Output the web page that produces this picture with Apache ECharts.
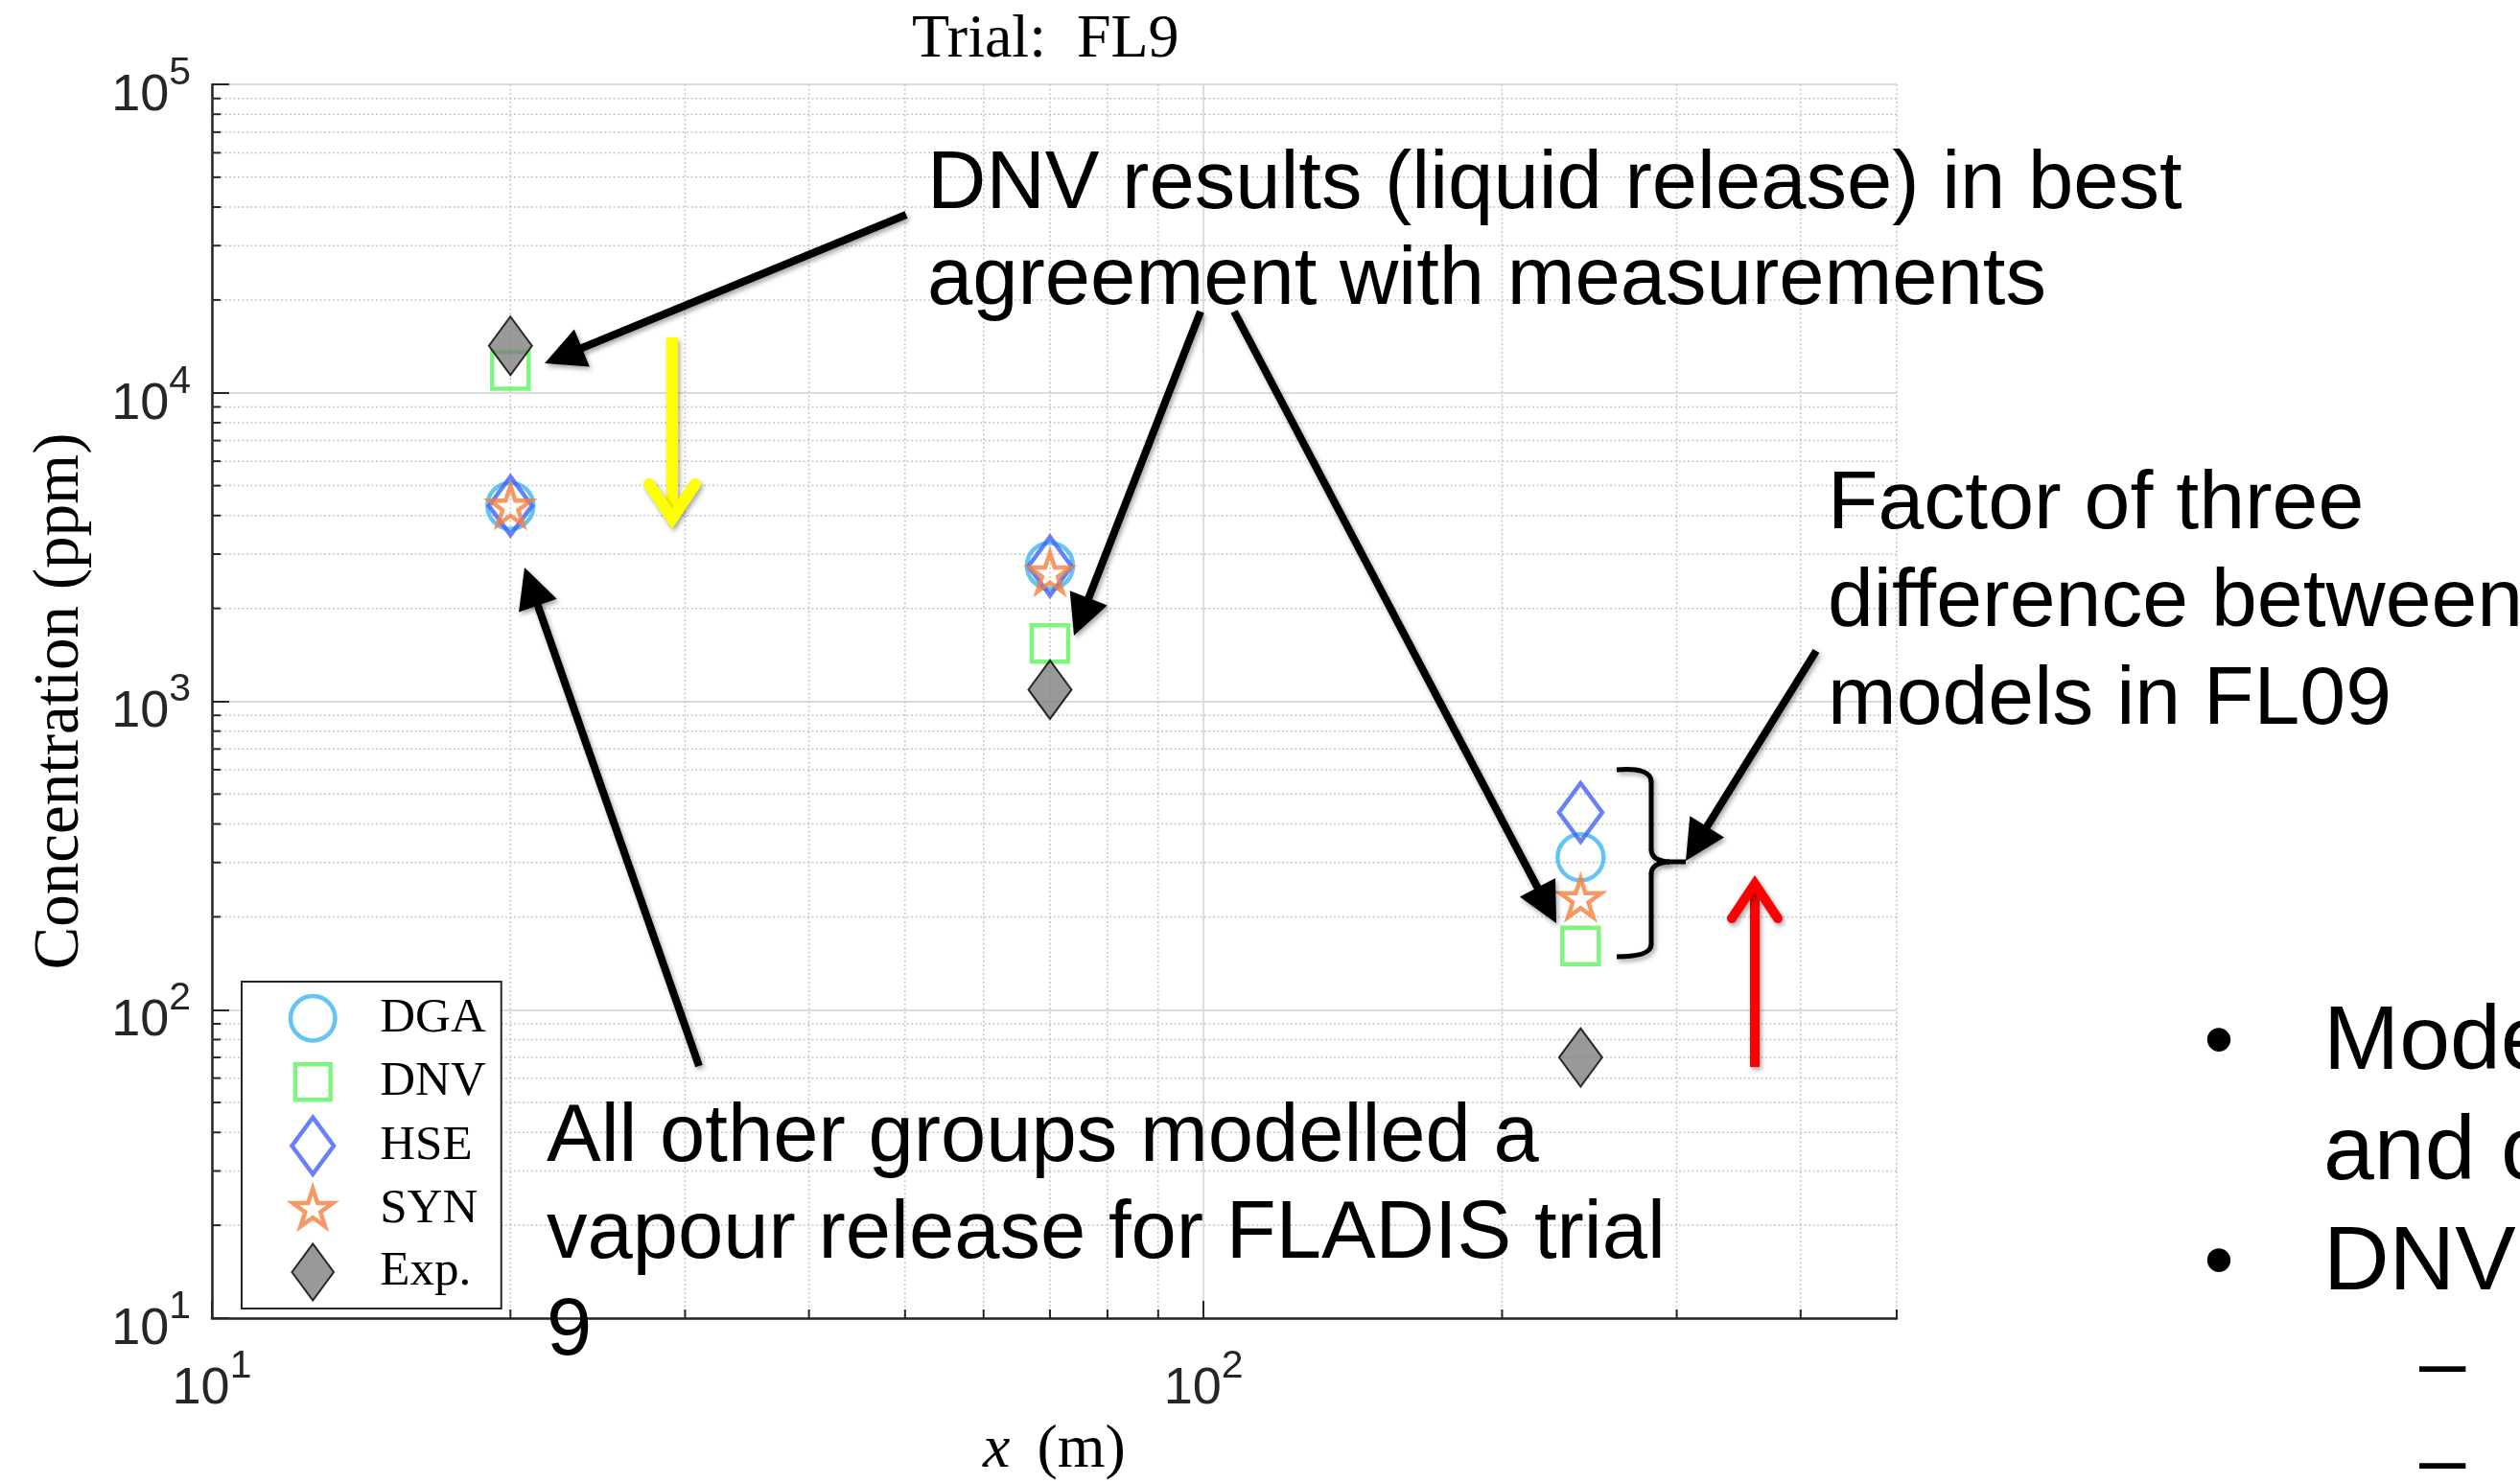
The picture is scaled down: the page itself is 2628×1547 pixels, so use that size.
<!DOCTYPE html>
<html>
<head>
<meta charset="utf-8">
<script src="https://cdn.jsdelivr.net/npm/echarts@6/dist/echarts.min.js"></script>
<style>
html, body { margin: 0; padding: 0; background: #ffffff; }
#chart { width: 2628px; height: 1547px; }
</style>
</head>
<body>
<div id="chart"></div>
<script>
// ---------------- data ----------------
const distances = [20, 70, 240];              // x (m)
const dgaValues = [4300, 2750, 312];          // ppm
const dnvValues = [11800, 1540, 161];
const hseValues = [4300, 2740, 436];
const synValues = [4250, 2580, 227];
const expValues = [14200, 1090, 70];
const seriesNames = ['DGA', 'DNV', 'HSE', 'SYN', 'Exp.'];
const xMajorTicks = [10, 100];
const xMinorTicks = [20, 30, 40, 50, 60, 70, 80, 90, 200, 300, 400, 500];
const yMinorTicks = [20, 30, 40, 50, 60, 70, 80, 90,
                     200, 300, 400, 500, 600, 700, 800, 900,
                     2000, 3000, 4000, 5000, 6000, 7000, 8000, 9000,
                     20000, 30000, 40000, 50000, 60000, 70000, 80000, 90000];

// ---------------- marker shapes (64 x 64 frame, centred at 32,32) ----------------
const ICON = {
  circle: 'path://M0,0M64,64M56,32A24,24,0,1,1,8,32A24,24,0,1,1,56,32Z',
  square: 'path://M0,0M64,64M13,13L51,13L51,51L13,51Z',
  diamond: 'path://M0,0M64,64M32,1.5L54.5,32L32,62.5L9.5,32Z',
  star: 'path://M0,0M64,64M32,9.4L37.07,25.02L53.49,25.02L40.21,34.67L45.28,50.28L32,40.63L18.72,50.28L23.79,34.67L10.51,25.02L26.93,25.02Z'
};

const AXIS_COLOR = '#262626';
const SANS = 'Liberation Sans';
const SERIF = 'Liberation Serif';

function decadeLabel(value) {
  const e = Math.log10(value);
  const r = Math.round(e);
  if (Math.abs(e - r) > 1e-6) return '';
  return '{b|10}{s|' + r + '}';
}
const tickRich = {
  b: { fontFamily: SANS, fontSize: 54, color: AXIS_COLOR, lineHeight: 78, verticalAlign: 'bottom' },
  s: { fontFamily: SANS, fontSize: 41, color: AXIS_COLOR, lineHeight: 41, verticalAlign: 'bottom', padding: [0, 0, 30, 0] }
};

function pairs(values) { return distances.map((d, i) => [d, values[i]]); }

const hollow = (c, w) => ({ color: 'rgba(0,0,0,0)', borderColor: c, borderWidth: w });

const seriesDefs = [
  { name: 'DGA', values: dgaValues, icon: ICON.circle, style: hollow('#3DB5F0', 4.5) },
  { name: 'DNV', values: dnvValues, icon: ICON.square, style: hollow('#5EF25E', 4.5) },
  { name: 'HSE', values: hseValues, icon: ICON.diamond, style: hollow('#4062F7', 4.5) },
  { name: 'SYN', values: synValues, icon: ICON.star, style: hollow('#F57F3E', 4.5) },
  { name: 'Exp.', values: expValues, icon: ICON.diamond, style: { color: '#808080', borderColor: '#000000', borderWidth: 2 } }
];

// ---------------- annotation helpers ----------------
const SHADOW = { shadowBlur: 5, shadowColor: 'rgba(0,0,0,0.35)', shadowOffsetX: 2, shadowOffsetY: 3 };
function arrow(x1, y1, x2, y2) {
  const dx = x2 - x1, dy = y2 - y1, L = Math.hypot(dx, dy), ux = dx / L, uy = dy / L;
  const hl = 42, hw = 21;
  const bx = x2 - ux * hl, by = y2 - uy * hl;
  return [
    { type: 'line', z: 100, silent: true,
      shape: { x1: x1, y1: y1, x2: bx + ux * 4, y2: by + uy * 4 },
      style: Object.assign({ stroke: '#000', lineWidth: 8, lineCap: 'butt' }, SHADOW) },
    { type: 'polygon', z: 100, silent: true,
      shape: { points: [[x2, y2], [bx - uy * hw, by + ux * hw], [bx + uy * hw, by - ux * hw]] },
      style: Object.assign({ fill: '#000' }, SHADOW) }
  ];
}
function label(text, x, baseline, fs) {
  return { type: 'text', z: 100, silent: true, x: x, y: baseline - 0.3465 * fs + 5,
    style: { text: text, fontFamily: SANS, fontSize: fs, fill: '#000', align: 'left', verticalAlign: 'middle' } };
}
function braceLine(x1, y1, x2, y2) {
  return { type: 'line', z: 100, silent: true, shape: { x1: x1, y1: y1, x2: x2, y2: y2 },
    style: Object.assign({ stroke: '#000', lineWidth: 5, lineCap: 'butt' }, SHADOW) };
}
function braceCurve(x1, y1, cx, cy, x2, y2) {
  return { type: 'bezierCurve', z: 100, silent: true,
    shape: { x1: x1, y1: y1, cpx1: cx, cpy1: cy, x2: x2, y2: y2 },
    style: Object.assign({ stroke: '#000', lineWidth: 5, fill: null }, SHADOW) };
}
function glyph(ch, x, y, fs, align) {
  return { type: 'text', z: 100, silent: true, x: x, y: y,
    style: { text: ch, fontFamily: SANS, fontSize: fs, fill: '#000', align: align, verticalAlign: 'middle' } };
}

const graphics = [].concat(
  arrow(945, 224, 568, 379),
  arrow(1252, 325, 1120, 663),
  arrow(1287, 325, 1623, 963),
  arrow(1894, 679, 1758, 898),
  arrow(729, 1112, 547, 592),
  [
    // yellow arrow
    { type: 'line', z: 100, silent: true, shape: { x1: 701, y1: 352, x2: 701, y2: 535 },
      style: Object.assign({ stroke: '#FFFF00', lineWidth: 12, lineCap: 'butt' }, SHADOW) },
    { type: 'polyline', z: 100, silent: true, shape: { points: [[677, 505], [701, 541], [725, 505]] },
      style: Object.assign({ stroke: '#FFFF00', lineWidth: 12, lineCap: 'round', lineJoin: 'miter', fill: null }, SHADOW) },
    // red arrow
    { type: 'line', z: 100, silent: true, shape: { x1: 1830, y1: 1113, x2: 1830, y2: 930 },
      style: Object.assign({ stroke: '#FF0000', lineWidth: 10, lineCap: 'butt' }, SHADOW) },
    { type: 'polyline', z: 100, silent: true, shape: { points: [[1806, 958], [1830, 922], [1854, 958]] },
      style: Object.assign({ stroke: '#FF0000', lineWidth: 10, lineCap: 'round', lineJoin: 'miter', fill: null }, SHADOW) },
    // brace
    braceCurve(1686, 803, 1722, 800, 1722, 816),
    braceLine(1722, 815, 1722, 887),
    braceCurve(1722, 886, 1722, 898, 1741, 899),
    braceLine(1740, 899, 1758, 899),
    braceCurve(1741, 899, 1722, 900, 1722, 912),
    braceLine(1722, 911, 1722, 986),
    braceCurve(1722, 985, 1722, 998, 1686, 998),
    // texts
    label('DNV results (liquid release) in best', 967, 218, 85),
    label('agreement with measurements', 967, 318, 85),
    label('Factor of three', 1906, 552, 86),
    label('difference between', 1906, 654, 86),
    label('models in FL09', 1906, 756, 86),
    label('All other groups modelled a', 570, 1212, 85),
    label('vapour release for FLADIS trial', 570, 1313, 85),
    label('9', 570, 1414, 85),
    // bullets on the right
    glyph('\u2022', 2314, 1090, 90, 'center'),
    glyph('\u2022', 2314, 1320, 90, 'center'),
    label('Models', 2423, 1117, 95),
    label('and c', 2423, 1232, 95),
    label('DNV', 2423, 1347, 95),
    glyph('\u2013', 2523, 1426, 87, 'left'),
    glyph('\u2013', 2523, 1527, 87, 'left')
  ]
);

// ---------------- chart ----------------
const chart = echarts.init(document.getElementById('chart'), null, { renderer: 'canvas', width: 2628, height: 1547 });

const minorGridStyle = { stroke: '#C6C6C6', lineWidth: 1.5, lineDash: [2, 2.5] };
const minorTickStyle = { stroke: AXIS_COLOR, lineWidth: 2 };

const option = {
  animation: false,
  backgroundColor: '#ffffff',
  title: {
    text: 'Trial:  FL9',
    left: 951, top: 10, padding: 0,
    textStyle: { fontFamily: SERIF, fontSize: 64, fontWeight: 'normal', color: '#000' }
  },
  grid: { left: 221, right: 650, top: 88, bottom: 172, containLabel: false, outerBoundsMode: 'none' },
  xAxis: {
    type: 'log', logBase: 10, min: 10, max: 500,
    axisLine: { show: true, onZero: false, lineStyle: { color: AXIS_COLOR, width: 2.5 } },
    axisTick: { show: true, inside: true, length: 18, customValues: xMajorTicks, lineStyle: { color: AXIS_COLOR, width: 2 } },
    axisLabel: { show: true, margin: 23, customValues: xMajorTicks, formatter: decadeLabel, rich: tickRich },
    splitLine: { show: true, lineStyle: { color: '#DCDCDC', width: 2 } },
    minorTick: { show: false }, minorSplitLine: { show: false },
    name: '{i|x} (m)', nameLocation: 'middle', nameGap: 106, nameMoveOverlap: false,
    nameTextStyle: { fontFamily: SERIF, fontSize: 64, color: '#000',
      rich: { i: { fontFamily: SERIF, fontSize: 64, fontStyle: 'italic', color: '#000', padding: [0, 12, 0, 0] } } }
  },
  yAxis: {
    type: 'log', logBase: 10, min: 10, max: 100000,
    axisLine: { show: true, onZero: false, lineStyle: { color: AXIS_COLOR, width: 2.5 } },
    axisTick: { show: true, inside: true, length: 18, lineStyle: { color: AXIS_COLOR, width: 2 } },
    axisLabel: { show: true, margin: 22, formatter: decadeLabel, rich: tickRich },
    splitLine: { show: true, lineStyle: { color: '#DCDCDC', width: 2 } },
    minorTick: { show: false }, minorSplitLine: { show: false },
    name: 'Concentration (ppm)', nameLocation: 'middle', nameRotate: 90, nameGap: 124, nameMoveOverlap: false,
    nameTextStyle: { fontFamily: SERIF, fontSize: 67, color: '#000' }
  },
  legend: {
    data: seriesDefs.map(s => ({ name: s.name, icon: s.icon, itemStyle: { borderWidth: s.style.borderWidth } })),
    orient: 'vertical', left: 252, top: 1024,
    itemWidth: 62, itemHeight: 62, itemGap: 0,
    padding: [5, 16, 6, 41],
    backgroundColor: '#ffffff', borderColor: AXIS_COLOR, borderWidth: 2, borderRadius: 0,
    selectedMode: false,
    textStyle: { fontFamily: SERIF, fontSize: 51, color: '#000', padding: [0, 0, 8, 34] },
    z: 10
  },
  graphic: { elements: graphics },
  series: [
    {
      type: 'custom', name: 'xMinorGrid', coordinateSystem: 'cartesian2d', silent: true, clip: false, z: 1,
      data: xMinorTicks.map(v => [v, 10]),
      renderItem: function (params, api) {
        const cs = params.coordSys;
        const px = api.coord([api.value(0), api.value(1)])[0];
        return { type: 'group', children: [
          { type: 'line', shape: { x1: px, y1: cs.y, x2: px, y2: cs.y + cs.height }, style: minorGridStyle },
          { type: 'line', shape: { x1: px, y1: cs.y + cs.height, x2: px, y2: cs.y + cs.height - 9 }, style: minorTickStyle }
        ] };
      }
    },
    {
      type: 'custom', name: 'yMinorGrid', coordinateSystem: 'cartesian2d', silent: true, clip: false, z: 1,
      data: yMinorTicks.map(v => [10, v]),
      renderItem: function (params, api) {
        const cs = params.coordSys;
        const py = api.coord([api.value(0), api.value(1)])[1];
        return { type: 'group', children: [
          { type: 'line', shape: { x1: cs.x, y1: py, x2: cs.x + cs.width, y2: py }, style: minorGridStyle },
          { type: 'line', shape: { x1: cs.x, y1: py, x2: cs.x + 9, y2: py }, style: minorTickStyle }
        ] };
      }
    }
  ].concat(seriesDefs.map(s => ({
    type: 'scatter', name: s.name, data: pairs(s.values),
    symbol: s.icon, symbolSize: [64, 64], symbolKeepAspect: true,
    itemStyle: s.style, z: 3, silent: true,
    emphasis: { disabled: true }
  })))
};

chart.setOption(option);
</script>
</body>
</html>
